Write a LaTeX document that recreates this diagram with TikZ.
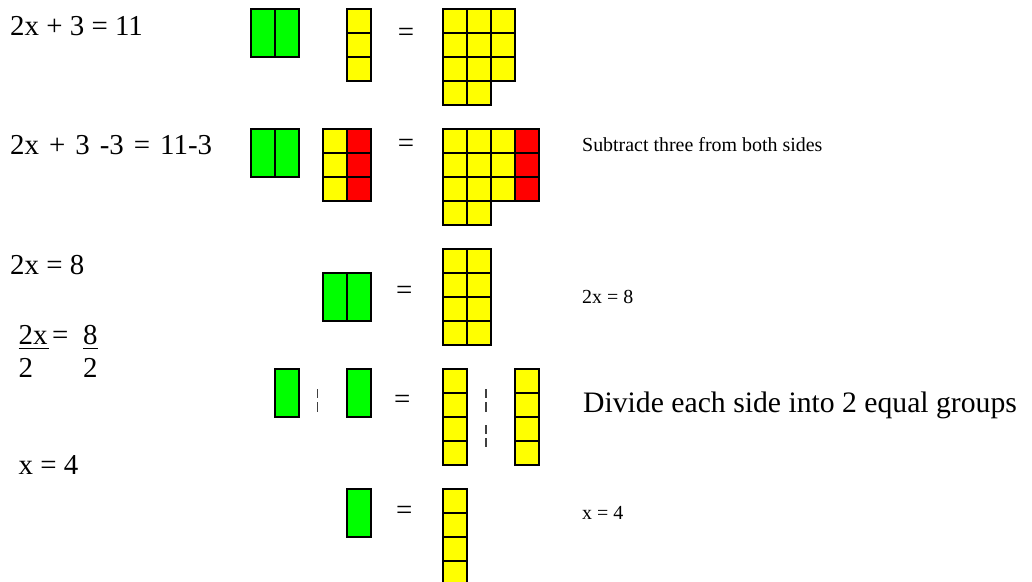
\documentclass[tikz,border=0pt]{standalone}
\usepackage{fontspec}
\setmainfont{Liberation Serif}
\definecolor{tgreen}{RGB}{0,255,0}
\definecolor{tyellow}{RGB}{255,255,0}
\definecolor{tred}{RGB}{255,0,0}
\newcommand\sqcell[3]{\draw[tile,fill=#3] (#1,#2) rectangle ++(24,24);}
\newcommand\xbar[2]{\draw[tile,fill=tgreen] (#1,#2) rectangle ++(24,48);}
\begin{document}
\begin{tikzpicture}[x=1bp,y=-1bp,
  tile/.style={draw=black,line width=1.8bp},
  lefttxt/.style={anchor=base west,inner sep=0pt,font=\fontsize{29}{34}\selectfont},
  smalltxt/.style={anchor=base west,inner sep=0pt,font=\fontsize{20}{24}\selectfont},
  bigtxt/.style={anchor=base west,inner sep=0pt,font=\fontsize{29.8}{34}\selectfont},
  eqsign/.style={anchor=center,inner sep=0pt,font=\fontsize{29}{34}\selectfont},
  dashline/.style={draw=black!75,line width=1.7bp,dash pattern=on 9.3bp off 4bp},
  uline/.style={line width=1.4bp}]
\useasboundingbox (0,0) rectangle (1032,582);
\clip (0,0) rectangle (1032,582);
% left equations
\node[lefttxt] (e1) at (10,36) {2x + 3 = 11};
\node[lefttxt] (e2) at (10,155) {\spaceskip=10bp plus 1bp 2x + 3 -3 = 11-3};
\node[lefttxt] (e3) at (10,275) {2x = 8};
\node[lefttxt] (f1) at (18.5,344.5) {2x};
\node[lefttxt] (f2) at (52,344.5) {=};
\node[lefttxt] (f3) at (83,344.5) {8};
\node[lefttxt] (f4) at (18.5,377) {2};
\node[lefttxt] (f5) at (83,377) {2};
\draw[uline] (18.5,348.5) -- (49,348.5);
\draw[uline] (83,348.5) -- (98,348.5);
\node[lefttxt] (e5) at (18.5,474) {x = 4};
% right notes
\node[smalltxt] (n2) at (582,152) {Subtract three from both sides};
\node[smalltxt] (n3) at (582,304) {2x = 8};
\node[bigtxt] (n4) at (583,412) {Divide each side into 2 equal groups};
\node[smalltxt] (n5) at (582,519) {x = 4};
% equals signs
\node[eqsign] (q1) at (406,35) {=};
\node[eqsign] (q2) at (406,145.5) {=};
\node[eqsign] (q3) at (404.3,292.5) {=};
\node[eqsign] (q4) at (402.3,402.3) {=};
\node[eqsign] (q5) at (404.3,512.8) {=};
% row 1
\xbar{250.7}{8.7}\xbar{274.7}{8.7}
\sqcell{346.7}{8.7}{tyellow}\sqcell{346.7}{32.7}{tyellow}\sqcell{346.7}{56.7}{tyellow}
\foreach \yy in {8.7,32.7,56.7}{\foreach \xx in {442.7,466.7,490.7}{\sqcell{\xx}{\yy}{tyellow}}}
\sqcell{442.7}{80.7}{tyellow}\sqcell{466.7}{80.7}{tyellow}
% row 2
\xbar{250.7}{128.7}\xbar{274.7}{128.7}
\foreach \yy in {128.7,152.7,176.7}{\sqcell{322.7}{\yy}{tyellow}\sqcell{346.7}{\yy}{tred}}
\foreach \yy in {128.7,152.7,176.7}{\foreach \xx in {442.7,466.7,490.7}{\sqcell{\xx}{\yy}{tyellow}}\sqcell{514.7}{\yy}{tred}}
\sqcell{442.7}{200.7}{tyellow}\sqcell{466.7}{200.7}{tyellow}
% row 3
\xbar{322.7}{272.7}\xbar{346.7}{272.7}
\foreach \yy in {248.7,272.7,296.7,320.7}{\sqcell{442.7}{\yy}{tyellow}\sqcell{466.7}{\yy}{tyellow}}
% row 4
\xbar{274.7}{368.7}\xbar{346.7}{368.7}
\draw[dashline] (317.5,389) -- (317.5,411.7);
\foreach \yy in {368.7,392.7,416.7,440.7}{\sqcell{442.7}{\yy}{tyellow}\sqcell{514.7}{\yy}{tyellow}}
\draw[dashline] (486,389) -- (486,411.7);
\draw[dashline] (486,425) -- (486,447.3);
% row 5
\xbar{346.7}{488.7}
\foreach \yy in {488.7,512.7,536.7,560.7}{\sqcell{442.7}{\yy}{tyellow}}
\end{tikzpicture}
\end{document}
